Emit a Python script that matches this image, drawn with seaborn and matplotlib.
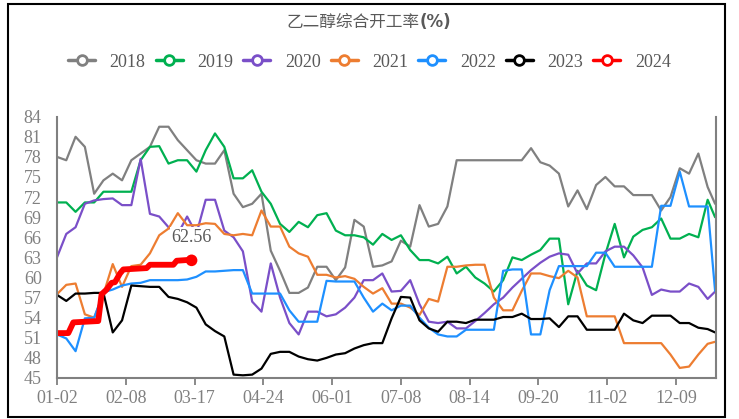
import numpy as np
import pandas as pd
import matplotlib.pyplot as plt
import seaborn as sns
from matplotlib.lines import Line2D
from matplotlib.patches import Rectangle

sns.set_style('white')
plt.rcParams['font.family'] = ['Liberation Serif', 'Noto Sans CJK SC']

# 数据（按交易日序号，每 5 个点取一次）
years = ['2018', '2019', '2020', '2021', '2022', '2023', '2024']
colors = ['#808080', '#00B050', '#7A4FC8', '#ED7D31', '#1E90FF', '#000000', '#FF0000']
tick_pos = [0, 37, 74, 111, 148, 185, 222, 259, 296, 333]
tick_labels = ['01-02', '02-08', '03-17', '04-24', '06-01', '07-08', '08-14', '09-20', '11-02', '12-09']

day_idx = list(range(0, 351, 5)) + [354]

rate_2018 = [78.0, 77.5, 81.0, 79.5, 72.5, 74.5, 75.5, 74.5, 77.5, 78.5, 79.5, 82.5, 82.5, 80.5, 79.0, 77.5, 77.0, 77.0, 79.0,
             72.5, 70.5, 71.0, 72.5, 64.0, 61.0, 57.7, 57.7, 58.5, 61.6, 61.6, 59.6, 61.5, 68.6, 67.6, 61.6, 61.8,
             62.4, 65.5, 64.6, 70.8, 67.6, 68.0, 70.6, 77.5, 77.5, 77.5, 77.5, 77.5, 77.5, 77.5, 77.5, 79.3, 77.2, 76.7,
             75.5, 70.6, 73.0, 70.2, 73.8, 75.0, 73.6, 73.6, 72.3, 72.3, 72.3, 70.0, 72.0, 76.3, 75.5, 78.5, 73.5, 71.0]
rate_2019 = [71.2, 71.2, 69.8, 71.2, 71.2, 72.8, 72.8, 72.8, 72.8, 77.5, 79.5, 79.6, 77.0, 77.5, 77.5, 75.8, 79.0, 81.5, 79.5,
             74.8, 74.8, 76.0, 72.8, 71.0, 68.0, 66.8, 68.3, 67.5, 69.3, 69.6, 67.0, 66.3, 66.3, 66.0, 64.9, 66.5,
             65.6, 66.3, 64.1, 62.6, 62.6, 62.1, 63.1, 60.6, 61.6, 60.0, 59.1, 57.9, 59.6, 63.0, 62.6, 63.4, 64.1, 65.8,
             65.8, 56.0, 61.0, 58.8, 58.1, 63.5, 68.0, 63.0, 66.1, 67.1, 67.5, 68.8, 65.8, 65.8, 66.5, 66.0, 71.6, 69.0]
rate_2020 = [63.0, 66.5, 67.5, 71.0, 71.5, 71.7, 71.8, 70.8, 70.8, 77.7, 69.5, 69.1, 67.5, 66.5, 69.1, 66.5, 71.6, 71.6, 67.0,
             66.0, 63.9, 56.4, 54.9, 62.1, 57.0, 53.2, 51.5, 54.9, 54.9, 54.2, 54.5, 55.5, 57.0, 59.6, 59.6, 60.6,
             57.9, 58.0, 59.6, 56.0, 53.4, 53.2, 53.4, 52.4, 52.4, 53.5, 54.7, 56.0, 57.0, 58.5, 59.8, 61.1, 62.2, 63.1,
             63.6, 63.4, 60.6, 62.1, 62.1, 63.9, 64.6, 64.6, 63.3, 61.5, 57.4, 58.2, 57.9, 57.9, 59.1, 58.6, 56.8, 57.9]
rate_2021 = [57.5, 58.9, 59.1, 54.5, 54.0, 57.5, 62.0, 58.6, 61.7, 61.9, 63.6, 66.3, 67.3, 69.6, 67.8, 67.8, 68.1, 68.0, 66.5,
             66.3, 66.5, 66.3, 70.0, 67.6, 67.6, 64.6, 63.6, 63.1, 60.4, 60.4, 60.0, 60.2, 59.8, 58.6, 57.6, 58.4,
             56.1, 56.1, 55.5, 54.4, 56.8, 56.4, 61.6, 61.6, 61.8, 61.9, 61.9, 57.0, 55.1, 55.1, 58.0, 60.6, 60.6, 60.2,
             59.9, 61.0, 60.0, 54.2, 54.2, 54.2, 54.2, 50.2, 50.2, 50.2, 50.2, 50.2, 48.5, 46.5, 46.7, 48.5, 50.1, 50.4]
rate_2022 = [51.5, 50.9, 49.0, 53.9, 54.0, 57.8, 58.2, 58.8, 59.1, 59.2, 59.6, 59.6, 59.6, 59.6, 59.7, 60.1, 60.9, 60.9, 61.0,
             61.1, 61.1, 57.6, 57.6, 57.6, 57.6, 55.1, 53.4, 53.4, 53.4, 59.5, 59.4, 59.4, 59.4, 57.0, 54.9, 56.1,
             55.1, 55.8, 55.8, 54.0, 52.5, 51.5, 51.2, 51.2, 52.2, 52.2, 52.2, 52.2, 61.0, 61.2, 61.2, 51.5, 51.5, 58.1,
             61.7, 61.7, 61.7, 61.7, 63.7, 63.7, 61.6, 61.6, 61.6, 61.6, 61.6, 70.7, 70.7, 75.8, 70.6, 70.6, 70.6, 58.0]
rate_2023 = [57.4, 56.5, 57.6, 57.6, 57.7, 57.7, 51.8, 53.6, 58.8, 58.7, 58.6, 58.6, 57.1, 56.8, 56.3, 55.5, 53.0, 52.0, 51.2,
             45.5, 45.4, 45.5, 46.4, 48.6, 48.9, 48.9, 48.2, 47.8, 47.6, 48.0, 48.5, 48.7, 49.4, 49.9, 50.2, 50.2,
             53.9, 57.1, 57.0, 53.6, 52.4, 51.9, 53.4, 53.4, 53.2, 53.7, 53.7, 53.7, 54.1, 54.1, 54.6, 53.8, 53.8, 53.9,
             52.6, 54.2, 54.2, 52.2, 52.2, 52.2, 52.2, 54.6, 53.6, 53.2, 54.3, 54.3, 54.3, 53.2, 53.2, 52.5, 52.3, 51.8]

# 2024 到目前为止
idx_2024 = [0.7, 6.1, 8.8, 22.2, 24.0, 26.7, 29.4, 31.2, 33.9, 35.7, 48.2, 50.0, 62.6, 64.4, 69.7, 72.4]
rate_2024 = [51.7, 51.7, 53.3, 53.5, 57.5, 58.2, 59.2, 59.3, 60.6, 61.2, 61.4, 61.9, 61.9, 62.5, 62.6, 62.56]

history = [rate_2018, rate_2019, rate_2020, rate_2021, rate_2022, rate_2023]

fig = plt.figure(figsize=(7.39, 4.19), dpi=100)
ax = fig.add_axes([0.0771, 0.0979, 0.8918, 0.6236])

for yr, vals, c in zip(years[:-1], history, colors[:-1]):
    sns.lineplot(x=day_idx, y=vals, color=c, linewidth=1.6, ax=ax)
sns.lineplot(x=idx_2024, y=rate_2024, color=colors[-1], linewidth=4.2, ax=ax)
sns.scatterplot(x=[idx_2024[-1]], y=[rate_2024[-1]], color=colors[-1], s=70, edgecolor='none', ax=ax, zorder=5)

ax.annotate('62.56', xy=(idx_2024[-1], rate_2024[-1]), xytext=(0, 16.5), textcoords='offset points',
            ha='center', va='center', fontsize=13, color='#595959',
            bbox=dict(boxstyle='square,pad=0.1', fc='white', ec='none'))

ax.set_xlim(0, 354.5)
ax.set_ylim(45, 84)
ax.set_yticks(range(45, 85, 3))
ax.set_xticks(tick_pos)
ax.set_xticklabels(tick_labels)
ax.set_xlabel('')
ax.set_ylabel('')
ax.tick_params(axis='x', bottom=True, length=5, width=1.3, color='#808080', pad=4,
               labelsize=13, labelcolor='#808080')
ax.tick_params(axis='y', left=False, length=0, pad=11, labelsize=13, labelcolor='#808080')
for side in ['left', 'bottom', 'right']:
    ax.spines[side].set_color('#808080')
    ax.spines[side].set_linewidth(1.5)
ax.spines['top'].set_visible(False)

handles = [Line2D([], [], color=c, lw=2.5, marker='o', markersize=7, markerfacecolor='white',
                  markeredgewidth=2) for c in colors]
fig.legend(handles, years, loc='center', bbox_to_anchor=(0.5, 0.852), ncol=7, frameon=False,
           fontsize=13, handlelength=1.5, handletextpad=0.8, columnspacing=0.56, labelcolor='#595959')

fig.text(0.567, 0.9475, '乙二醇综合开工率', family=['Noto Sans CJK SC'], fontsize=12,
         color='#595959', ha='right', va='center')
fig.text(0.568, 0.9475, '(%)', family=['DejaVu Sans'], fontsize=12, fontweight='bold',
         color='#595959', ha='left', va='center')

fig.patches.append(Rectangle((8 / 739, 2 / 419), 717 / 739, 413 / 419, transform=fig.transFigure,
                             fill=False, ec='black', lw=1.5))

plt.savefig('out.png', dpi=100)
